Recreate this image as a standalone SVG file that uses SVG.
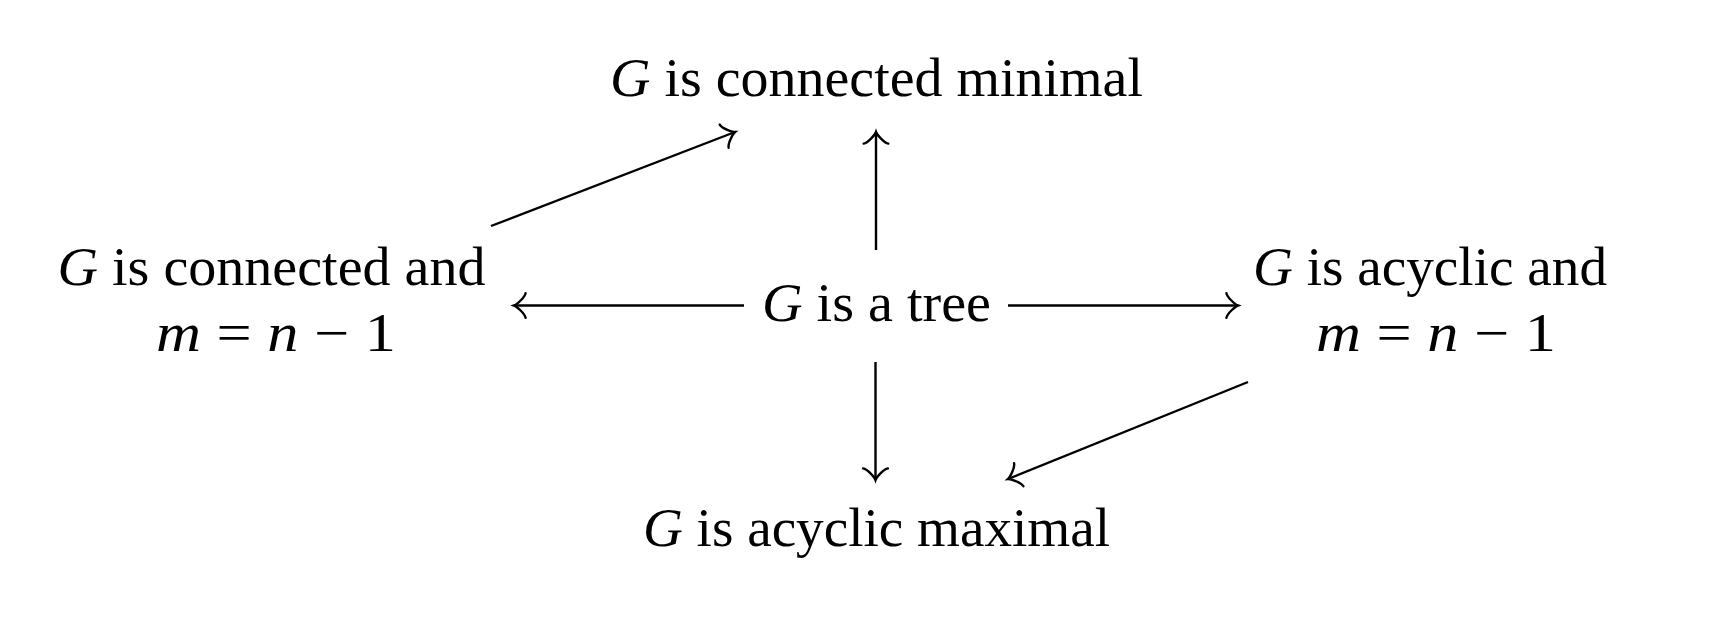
<svg xmlns="http://www.w3.org/2000/svg" width="1723" height="620" viewBox="0 0 1723 620">
<style>
text{font-family:"Liberation Serif","DejaVu Serif",serif;font-size:54px;fill:#000;text-anchor:middle}
.i{font-style:italic}
.edge{fill:none;stroke:#000;stroke-width:2.4}
</style>
<defs>
<marker id="to" markerUnits="userSpaceOnUse" orient="auto" refX="0" refY="0" markerWidth="30" markerHeight="30" overflow="visible">
<path d="M -11.6,12.4 C -10.8,7.75 -2.3,0.78 0,0 C -2.3,-0.78 -10.8,-7.75 -11.6,-12.4" fill="none" stroke="#000" stroke-width="2.4" stroke-linecap="round"/>
</marker>
</defs>
<rect width="1723" height="620" fill="#fff"/>
<g id="top"><text x="876.5" y="96" textLength="533" lengthAdjust="spacingAndGlyphs"><tspan class="i">G</tspan> is connected minimal</text></g>
<g id="center"><text x="876.5" y="321" textLength="229" lengthAdjust="spacingAndGlyphs"><tspan class="i">G</tspan> is a tree</text></g>
<g id="bottom"><text x="876.5" y="546" textLength="467" lengthAdjust="spacingAndGlyphs"><tspan class="i">G</tspan> is acyclic maximal</text></g>
<g id="left">
<text x="271.5" y="285" textLength="428" lengthAdjust="spacingAndGlyphs"><tspan class="i">G</tspan> is connected and</text>
<text x="276" y="351" textLength="240" lengthAdjust="spacingAndGlyphs"><tspan class="i">m</tspan> = <tspan class="i">n</tspan> − 1</text>
</g>
<g id="right">
<text x="1430" y="285" textLength="354" lengthAdjust="spacingAndGlyphs"><tspan class="i">G</tspan> is acyclic and</text>
<text x="1436" y="351" textLength="240" lengthAdjust="spacingAndGlyphs"><tspan class="i">m</tspan> = <tspan class="i">n</tspan> − 1</text>
</g>
<g id="connectors">
<line class="edge" x1="491" y1="226" x2="735" y2="132" marker-end="url(#to)"/>
<line class="edge" x1="744" y1="305.5" x2="514" y2="305.5" marker-end="url(#to)"/>
<line class="edge" x1="1008" y1="305.5" x2="1238" y2="305.5" marker-end="url(#to)"/>
<line class="edge" x1="876" y1="250" x2="876" y2="132" marker-end="url(#to)"/>
<line class="edge" x1="875.5" y1="362" x2="875.5" y2="480" marker-end="url(#to)"/>
<line class="edge" x1="1248" y1="382" x2="1008" y2="479" marker-end="url(#to)"/>
</g>
</svg>
